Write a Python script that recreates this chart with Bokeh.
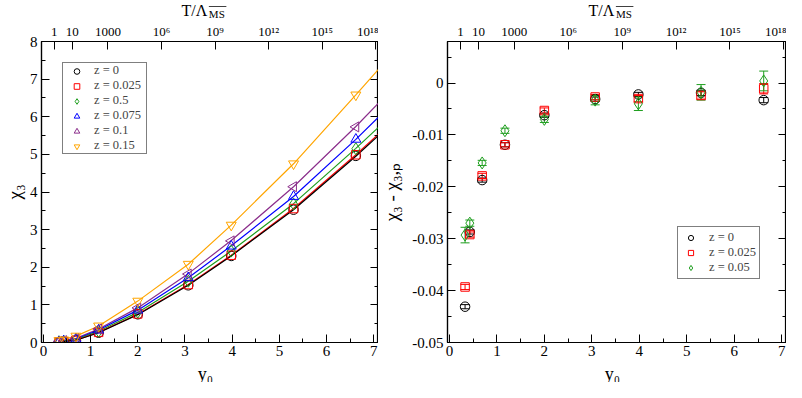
import math
from bokeh.plotting import figure
from bokeh.models import (Range1d, LinearAxis, FixedTicker, Label, Legend, LegendItem,
                          Whisker, ColumnDataSource, TeeHead, BoxAnnotation,
                          CustomJSTickFormatter)
from bokeh.layouts import row, column
from bokeh.embed import file_html
from bokeh.resources import INLINE

FONT = "Liberation Serif, serif"

# ---------------- data: left panel (chi_3 vs y0) ----------------
y0_pts = [0.33, 0.43, 0.69, 1.17, 2.0, 3.07, 3.98, 5.3, 6.62]
chi3_z0 = [0.01, 0.02, 0.06, 0.26, 0.75, 1.52, 2.30, 3.53, 4.96]
chi3_z0025 = [0.01, 0.02, 0.06, 0.27, 0.76, 1.54, 2.32, 3.56, 4.99]
chi3_z05 = [0.02, 0.03, 0.08, 0.30, 0.81, 1.63, 2.43, 3.68, 5.15]
chi3_z0075 = [0.02, 0.04, 0.09, 0.33, 0.86, 1.72, 2.56, 3.88, 5.40]
chi3_z01 = [0.03, 0.05, 0.11, 0.36, 0.92, 1.82, 2.70, 4.14, 5.73]
chi3_z015 = [0.05, 0.07, 0.17, 0.44, 1.10, 2.08, 3.12, 4.75, 6.58]

# fit curves
fit_y0 = [0.33, 0.69, 1.17, 2.0, 3.07, 3.98, 5.3, 6.62, 7.1]
fit_z0 = [0.01, 0.06, 0.26, 0.74, 1.52, 2.30, 3.53, 4.95, 5.50]
fit_z0025 = [0.01, 0.06, 0.27, 0.75, 1.54, 2.32, 3.56, 4.99, 5.54]
fit_z05 = [0.02, 0.08, 0.30, 0.80, 1.63, 2.43, 3.69, 5.16, 5.72]
fit_z0075 = [0.02, 0.09, 0.33, 0.86, 1.72, 2.57, 3.88, 5.40, 5.99]
fit_z01 = [0.03, 0.11, 0.36, 0.92, 1.83, 2.71, 4.14, 5.74, 6.36]
fit_z015 = [0.05, 0.17, 0.44, 1.10, 2.08, 3.12, 4.75, 6.58, 7.26]

left_labels = ["z = 0", "z = 0.025", "z = 0.5", "z = 0.075", "z = 0.1", "z = 0.15"]

# ---------------- data: right panel (chi_3 - chi_3,p) ----------------
y0_diff = [0.33, 0.43, 0.69, 1.17, 2.0, 3.07, 3.98, 5.3, 6.62]
diff_z0 = [-0.0431, -0.0287, -0.0187, -0.0119, -0.0062, -0.0031, -0.0022, -0.0019, -0.0033]
err_z0 = [0.0004, 0.0004, 0.0004, 0.0004, 0.0004, 0.0004, 0.0004, 0.0005, 0.0005]
diff_z0025 = [-0.0393, -0.0292, -0.0179, -0.0119, -0.0053, -0.0027, -0.0030, -0.0024, -0.0011]
err_z0025 = [0.0005, 0.0005, 0.0005, 0.0004, 0.0005, 0.0005, 0.0006, 0.0007, 0.0010]
diff_z005 = [-0.0293, -0.0270, -0.0154, -0.0092, -0.0070, -0.0033, -0.0040, -0.0018, 0.0004]
err_z005 = [0.0015, 0.0006, 0.0005, 0.0005, 0.0006, 0.0009, 0.0013, 0.0015, 0.0019]
right_labels = ["z = 0", "z = 0.025", "z = 0.05"]

# top axis: T/Lambda in decades, linear in y0
top_ticks = [0, 1, 3, 6, 9, 12, 15, 18]
top_tick_labels = ["1", "10", "1000", "10\u2076", "10\u2079", "10\u00b9\u00b2", "10\u00b9\u2075", "10\u00b9\u2078"]
Y0_AT_T1 = 0.232
Y0_PER_DECADE = 0.3785

X_START, X_END = -0.04, 7.1

colors = ["#000000", "#ff0000", "#1e9e1e", "#0000ff", "#8b2e8b", "#ffa500"]
markers = ["circle", "square", "diamond", "triangle", "triangle", "inverted_triangle"]
angles = [0, 0, 0, 0, math.pi / 2, 0]
sizes = [9.5, 8.5, 12, 10, 10, 10]

HDR = 20
FTR = 19
MAIN_H = 343
TOP_B, BOT_B = 19, 21
FRAME_H = MAIN_H - TOP_B - BOT_B
RAX = 8  # approx. size of the mirrored right axis


def style_axis(ax, tick_size="15px"):
    ax.major_label_text_font = FONT
    ax.major_label_text_font_size = tick_size
    ax.major_label_text_color = "black"
    ax.axis_line_color = "black"
    ax.axis_line_width = 1.2
    ax.major_tick_line_color = "black"
    ax.minor_tick_line_color = "black"
    ax.major_tick_in = 8
    ax.major_tick_out = 0
    ax.minor_tick_in = 4
    ax.minor_tick_out = 0
    ax.major_label_standoff = 5
    ax.axis_label_text_font = FONT
    ax.axis_label_text_font_style = "normal"
    ax.axis_label_text_color = "black"


def make_fig(width, left_b, y_range, y_major, y_minor, ylabel, ylabel_standoff):
    p = figure(width=width, height=MAIN_H,
               x_range=Range1d(X_START, X_END), y_range=y_range,
               output_backend="svg", toolbar_location=None,
               min_border_left=left_b, min_border_right=0,
               min_border_top=TOP_B, min_border_bottom=BOT_B)
    p.grid.visible = False
    p.outline_line_color = "black"
    p.outline_line_width = 1.2
    p.background_fill_color = "white"
    p.border_fill_color = "white"

    xa = p.xaxis[0]
    xa.ticker = FixedTicker(ticks=[0, 1, 2, 3, 4, 5, 6, 7],
                            minor_ticks=[0.5, 1.5, 2.5, 3.5, 4.5, 5.5, 6.5])
    style_axis(xa)
    xa.major_label_standoff = 3

    ya = p.yaxis[0]
    ya.ticker = FixedTicker(ticks=y_major, minor_ticks=y_minor)
    style_axis(ya)
    ya.major_label_standoff = 4
    ya.axis_label = ylabel
    ya.axis_label_text_font_size = "19px"
    ya.axis_label_standoff = ylabel_standoff

    # mirrored right axis (ticks only)
    ra = LinearAxis(ticker=FixedTicker(ticks=y_major, minor_ticks=y_minor),
                    formatter=CustomJSTickFormatter(code="return ''"))
    style_axis(ra)
    ra.major_label_standoff = 0
    p.add_layout(ra, "right")

    # top axis in T/Lambda
    p.extra_x_ranges = {"T": Range1d((X_START - Y0_AT_T1) / Y0_PER_DECADE,
                                     (X_END - Y0_AT_T1) / Y0_PER_DECADE)}
    ta = LinearAxis(x_range_name="T", ticker=FixedTicker(ticks=top_ticks, minor_ticks=[]),
                    major_label_overrides={t: s for t, s in zip(top_ticks, top_tick_labels)})
    style_axis(ta, "13px")
    ta.major_label_standoff = 3
    p.add_layout(ta, "above")
    return p


def blank_strip(width, height):
    h = figure(width=width, height=height, x_range=Range1d(0, width), y_range=Range1d(0, height),
               output_backend="svg", toolbar_location=None,
               min_border_left=0, min_border_right=0, min_border_top=0, min_border_bottom=0,
               x_axis_type=None, y_axis_type=None)
    h.grid.visible = False
    h.outline_line_color = None
    h.border_fill_color = "white"
    h.background_fill_color = "white"
    return h


def make_header(width, left_b):
    h = blank_strip(width, HDR)
    fw = width - left_b - RAX
    sc = fw / 343.0
    x0 = left_b + 149 * sc
    xm = left_b + 177 * sc
    h.add_layout(Label(x=x0, y=HDR - 10.3, text="T/\u039b", text_font=FONT, text_font_size="16px",
                       text_baseline="alphabetic", text_align="left", text_color="black"))
    h.add_layout(Label(x=xm, y=HDR - 13.7, text="MS", text_font=FONT, text_font_size="11px",
                       text_baseline="alphabetic", text_align="left", text_color="black"))
    h.add_layout(BoxAnnotation(left=xm, right=xm + 17.5, bottom=HDR - 6.6, top=HDR - 5.7,
                               fill_color="black", fill_alpha=1, line_color=None, level="overlay"))
    return h


def make_footer(width, left_b):
    f = blank_strip(width, FTR)
    fw = width - left_b - RAX
    f.add_layout(Label(x=left_b + fw / 2 + 2, y=FTR - 10, text="y\u2080", text_font=FONT,
                       text_font_size="18px", text_baseline="middle", text_align="center",
                       text_color="black"))
    return f


B1, B2 = 36, 64
W1, W2 = 378, 408

# ---------------- left figure ----------------
p1 = make_fig(W1, B1, Range1d(0, 8),
              [0, 1, 2, 3, 4, 5, 6, 7, 8], [0.5, 1.5, 2.5, 3.5, 4.5, 5.5, 6.5, 7.5],
              "\u03c7\u2083", 2)

left_series = [chi3_z0, chi3_z0025, chi3_z05, chi3_z0075, chi3_z01, chi3_z015]
fit_series = [fit_z0, fit_z0025, fit_z05, fit_z0075, fit_z01, fit_z015]
for i in range(5, -1, -1):
    p1.line(fit_y0, fit_series[i], line_color=colors[i], line_width=1.2)
scat = []
for i in range(6):
    r = p1.scatter(y0_pts, left_series[i], marker=markers[i], size=sizes[i],
                   angle=angles[i], fill_color=None, line_color=colors[i], line_width=1)
    scat.append(r)
leg1 = Legend(items=[LegendItem(label=left_labels[i], renderers=[scat[i]]) for i in range(6)],
              location="top_left", margin=21,
              padding=dict(left=2, right=2, top=0, bottom=0), spacing=0,
              glyph_width=23, glyph_height=14, label_height=14, label_standoff=6,
              label_width=50,
              label_text_font=FONT, label_text_font_size="12.5px",
              border_line_color="black", border_line_width=1, background_fill_color="white",
              background_fill_alpha=1)
p1.add_layout(leg1)

# ---------------- right figure ----------------
p2 = make_fig(W2, B2, Range1d(-0.05, 0.008),
              [-0.05, -0.04, -0.03, -0.02, -0.01, 0.0],
              [-0.045, -0.035, -0.025, -0.015, -0.005, 0.005],
              "\u03c7\u2083 - \u03c7\u2083,\u209a", 7)
p2.yaxis[0].major_label_overrides = {0.0: "0", -0.01: "-0.01", -0.02: "-0.02",
                                     -0.03: "-0.03", -0.04: "-0.04", -0.05: "-0.05"}

right_series = [(diff_z0, err_z0), (diff_z0025, err_z0025), (diff_z005, err_z005)]
rs = []
for i, (vals, errs) in enumerate(right_series):
    src = ColumnDataSource(dict(x=y0_diff, y=vals,
                                lo=[v - e for v, e in zip(vals, errs)],
                                hi=[v + e for v, e in zip(vals, errs)]))
    w = Whisker(base="x", lower="lo", upper="hi", source=src, dimension="height",
                line_color=colors[i], line_width=1,
                lower_head=TeeHead(size=9, line_color=colors[i], line_width=1),
                upper_head=TeeHead(size=9, line_color=colors[i], line_width=1))
    p2.add_layout(w)
    r = p2.scatter("x", "y", source=src, marker=markers[i], size=sizes[i], angle=angles[i],
                   fill_color=None, line_color=colors[i], line_width=1)
    rs.append(r)

leg2 = Legend(items=[LegendItem(label=right_labels[i], renderers=[rs[i]]) for i in range(3)],
              location=(230, 63),
              padding=dict(left=2, right=2, top=3, bottom=3), spacing=0,
              glyph_width=21, glyph_height=13, label_height=13, label_standoff=8,
              label_width=48,
              label_text_font=FONT, label_text_font_size="12.5px",
              border_line_color="black", border_line_width=1, background_fill_color="white",
              background_fill_alpha=1)
p2.add_layout(leg2)

h1, h2 = make_header(W1, B1), make_header(W2, B2)
f1, f2 = make_footer(W1, B1), make_footer(W2, B2)

layout = column(row(h1, h2, spacing=0), row(p1, p2, spacing=0), row(f1, f2, spacing=0),
                spacing=0)
open("out.html", "w").write(file_html(layout, INLINE))
